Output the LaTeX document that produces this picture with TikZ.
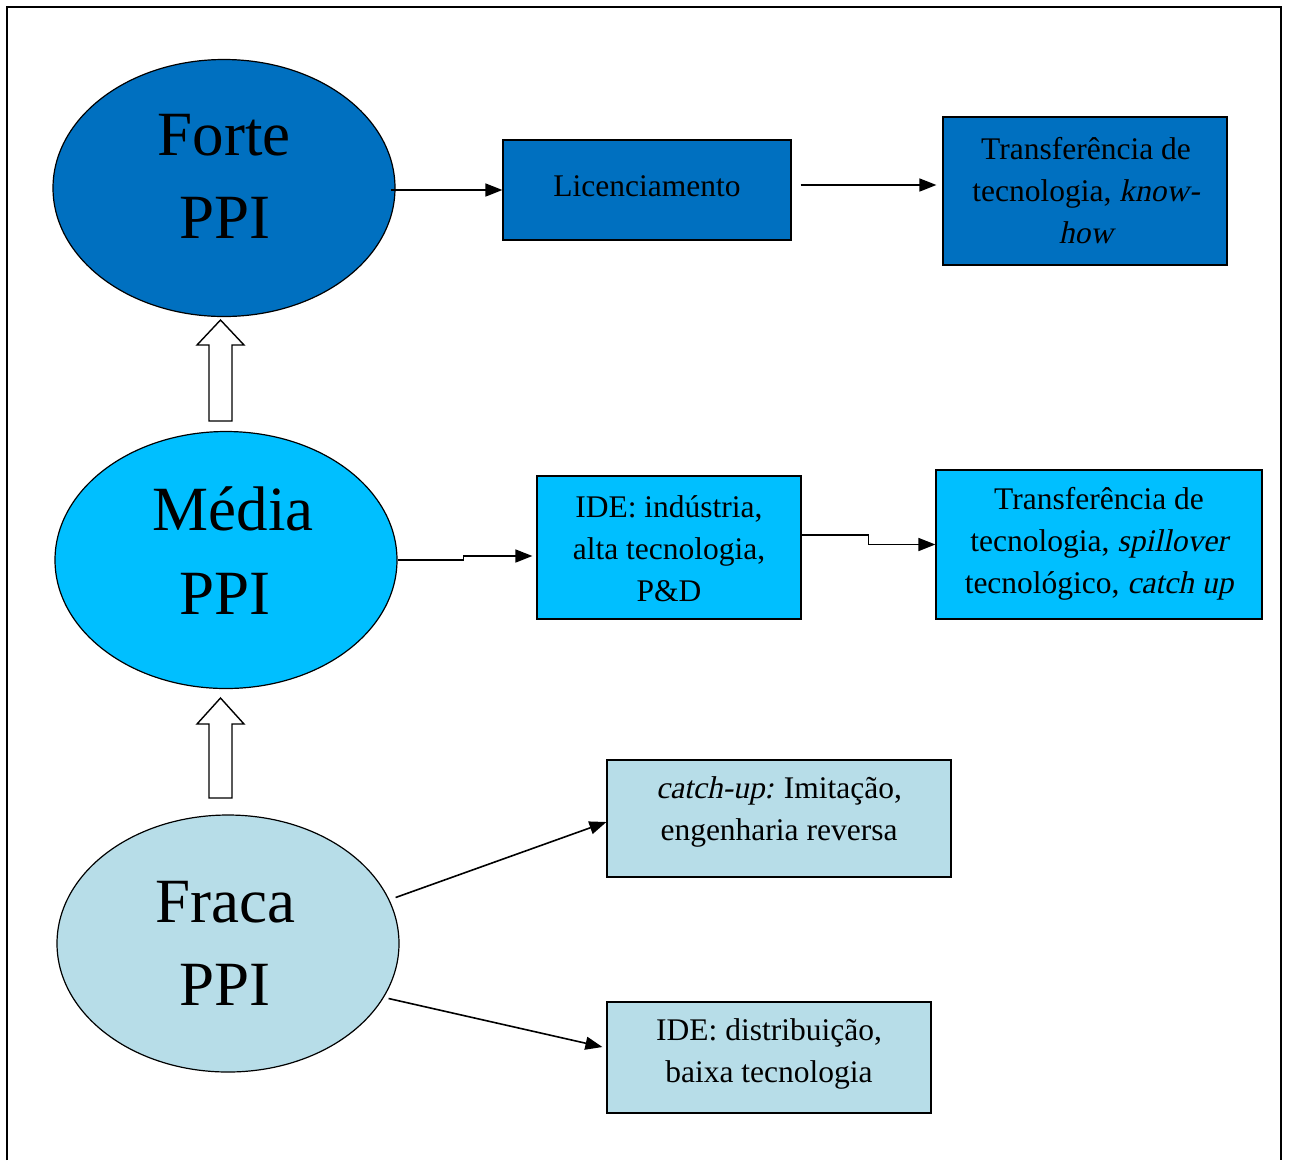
\documentclass[tikz,border=0pt]{standalone}
\usepackage{fontspec}
\setmainfont{Liberation Serif}[ItalicFont={Liberation Serif},ItalicFeatures={FakeSlant=0.21}]
\usetikzlibrary{shapes.geometric,arrows.meta}
\definecolor{forteC}{HTML}{0070C0}
\definecolor{mediaC}{HTML}{00BFFF}
\definecolor{fracaC}{HTML}{B7DDE8}
\tikzset{
  ell/.style={ellipse, draw, line width=1.2pt, minimum width=342pt, minimum height=257pt, inner sep=0pt},
  boxn/.style={draw, line width=1.2pt, inner sep=0pt},
  arr/.style={line width=1.6pt, -{Triangle[length=17pt,width=13pt]}},
  bigtxt/.style={font=\fontsize{63}{82}\selectfont, anchor=base, inner sep=0pt},
  boxtxt/.style={font=\fontsize{31.5}{42}\selectfont, align=center, inner sep=0pt},
  blockarr/.style={draw, line width=1.4pt, fill=white},
  frame/.style={line width=1.6pt}
}
\begin{document}
\begin{tikzpicture}[x=1pt,y=-1pt]
\useasboundingbox (0,0) rectangle (1289,1160);
\draw[frame] (7,1160) -- (7,7) -- (1281,7) -- (1281,1160);

% ellipses
\node[ell, fill=forteC] (forte) at (224,188) {};
\node[ell, fill=mediaC] (media) at (226,560) {};
\node[ell, fill=fracaC] (fraca) at (228,943.5) {};
\node[bigtxt] (forteT1) at (224,155) {Forte};
\node[bigtxt] (forteT2) at (225,238) {PPI};
\node[bigtxt] (mediaT1) at (233,530) {Média};
\node[bigtxt] (mediaT2) at (225,614) {PPI};
\node[bigtxt] (fracaT1) at (225,922) {Fraca};
\node[bigtxt] (fracaT2) at (225,1005) {PPI};

% boxes
\node[boxn, fill=forteC, minimum width=288pt, minimum height=100pt] (lic) at (647,190) {};
\node[boxn, fill=forteC, minimum width=284pt, minimum height=148pt] (kh) at (1085,191) {};
\node[boxn, fill=mediaC, minimum width=264pt, minimum height=143pt] (ide1) at (669,547.5) {};
\node[boxn, fill=mediaC, minimum width=326pt, minimum height=149pt] (spill) at (1099,544.5) {};
\node[boxn, fill=fracaC, minimum width=344pt, minimum height=117pt] (catch) at (779,818.5) {};
\node[boxn, fill=fracaC, minimum width=324pt, minimum height=111pt] (distr) at (769,1057.5) {};

\node[boxtxt] (licT) at (647,186) {Licenciamento};
\node[boxtxt] (khT) at (1086,191) {Transferência de\\tecnologia, \textit{know-}\\\textit{how}};
\node[boxtxt] (ide1T) at (669,549) {IDE: indústria,\\alta tecnologia,\\P\&D};
\node[boxtxt] (spillT) at (1099,544) {Transferência de\\tecnologia, \textit{spillover}\\tecnológico, \textit{catch up}};
\node[boxtxt] (catchT) at (779,812) {\textit{catch-up:} Imitação,\\engenharia reversa};
\node[boxtxt] (distrT) at (769,1054) {IDE: distribuição,\\baixa tecnologia};

% connectors
\draw[arr] ([xshift=-5pt]forte.east |- lic.west) -- (lic.west);
\draw[arr, shorten <=9pt, shorten >=6pt] ([yshift=5pt]lic.east) -- ([yshift=5pt]lic.east -| kh.west);
\draw[arr] (media.east) -- ++(66,0) |- ([yshift=-8.5pt,xshift=-4pt]ide1.west);
\draw[arr] ([yshift=12.5pt]ide1.east) -- ++(67,0) |- (spill.west);
\draw[arr] ([xshift=-4pt,yshift=46pt]fraca.east) -- ([yshift=-3.5pt]catch.west);
\draw[arr] ([xshift=-11pt,yshift=-55pt]fraca.east) -- ([xshift=-4pt,yshift=10.5pt]distr.west);

% block arrows
\draw[blockarr] (209,421) -- (209,345) -- (197,345) -- (220.5,320) -- (244,345) -- (232,345) -- (232,421) -- cycle;
\draw[blockarr] (209,798) -- (209,724) -- (197,724) -- (220.5,698) -- (244,724) -- (232,724) -- (232,798) -- cycle;
\end{tikzpicture}
\end{document}
